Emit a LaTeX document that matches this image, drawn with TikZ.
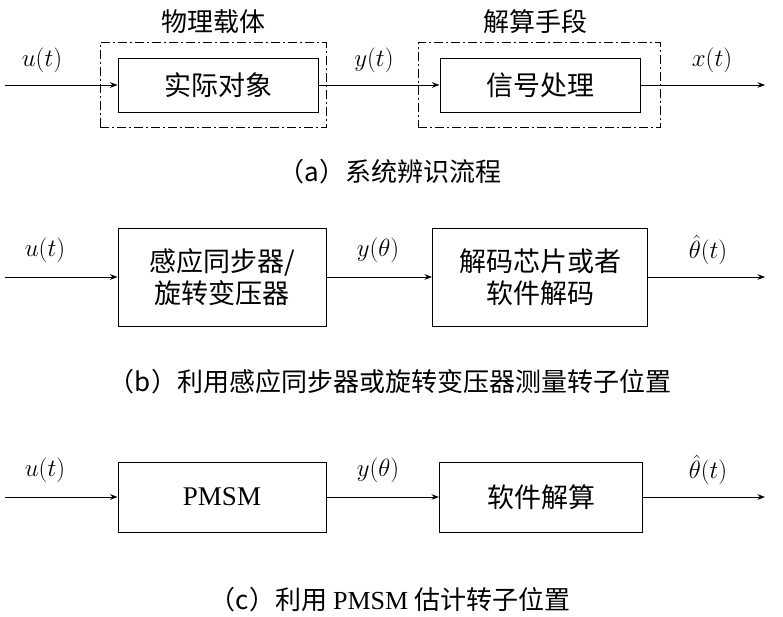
\documentclass[tikz,border=0pt]{standalone}
\usepackage{fontspec}
\setmainfont{Liberation Serif}
\newfontfamily\cjk{Noto Sans CJK SC}
\usetikzlibrary{arrows.meta,positioning}

\begin{document}
\begin{tikzpicture}[>=Stealth, x=1pt, y=-1pt]
  % styles for the three block diagrams
  \tikzset{
    blk/.style  = {draw, line width=1pt, font=\fontsize{27}{32}\selectfont\cjk, align=center, inner sep=0pt},
    frame/.style = {draw, line width=0.9pt, dash pattern=on 9pt off 3pt on 2pt off 3pt, inner sep=0pt},
    lbl/.style  = {font=\fontsize{28}{32}\selectfont},
    caption/.style  = {font=\fontsize{26}{30}\selectfont\cjk},
    sig/.style  = {->, line width=1pt}
  }
  \useasboundingbox (0,0) rectangle (783,616);

  % --- (a) identification ---
  \node[frame, minimum width=226, minimum height=85] (fa) at (213,85) {};
  \node[frame, minimum width=242, minimum height=85] (fb) at (539,85) {};
  \node[blk, minimum width=200, minimum height=54] (obj) at (218,85) {实际对象};
  \node[blk, minimum width=200, minimum height=54] (proc) at (540,85) {信号处理};
  \node[caption] at (213,22) {物理载体};
  \node[caption] at (535,22) {解算手段};
  \coordinate (ina) at (5,85);
  \coordinate (outa) at (765,85);
  \draw[sig] (ina) -- (obj);
  \draw[sig] (obj) -- (proc);
  \draw[sig] (proc) -- (outa);
  \node[lbl] at (42,60) {$u(t)$};
  \node[lbl] at (374,60) {$y(t)$};
  \node[lbl] at (712,60) {$x(t)$};
  \node[caption] at (390,172) {（a）系统辨识流程};

  % --- (b) resolver ---
  \node[blk, minimum width=208, minimum height=98] (res) at (222,277) {感应同步器/\\旋转变压器};
  \node[blk, minimum width=215, minimum height=98] (dec) at (540,277) {解码芯片或者\\软件解码};
  \coordinate (inb) at (5,277);
  \coordinate (outb) at (765,277);
  \draw[sig] (inb) -- (res);
  \draw[sig] (res) -- (dec);
  \draw[sig] (dec) -- (outb);
  \node[lbl] at (45,250) {$u(t)$};
  \node[lbl] at (378,250) {$y(\theta)$};
  \node[lbl] at (708,250) {$\hat{\theta}(t)$};
  \node[caption] at (390,382) {（b）利用感应同步器或旋转变压器测量转子位置};

  % --- (c) PMSM ---
  \node[blk, minimum width=208, minimum height=70, font=\fontsize{27}{32}\selectfont] (pm) at (222,497) {PMSM};
  \node[blk, minimum width=203, minimum height=70] (sol) at (541,497) {软件解算};
  \coordinate (inc) at (5,497);
  \coordinate (outc) at (765,497);
  \draw[sig] (inc) -- (pm);
  \draw[sig] (pm) -- (sol);
  \draw[sig] (sol) -- (outc);
  \node[lbl] at (45,470) {$u(t)$};
  \node[lbl] at (378,470) {$y(\theta)$};
  \node[lbl] at (708,470) {$\hat{\theta}(t)$};
  \node[caption] at (390,600) {（c）利用 {\rmfamily PMSM} 估计转子位置};
\end{tikzpicture}
\end{document}
